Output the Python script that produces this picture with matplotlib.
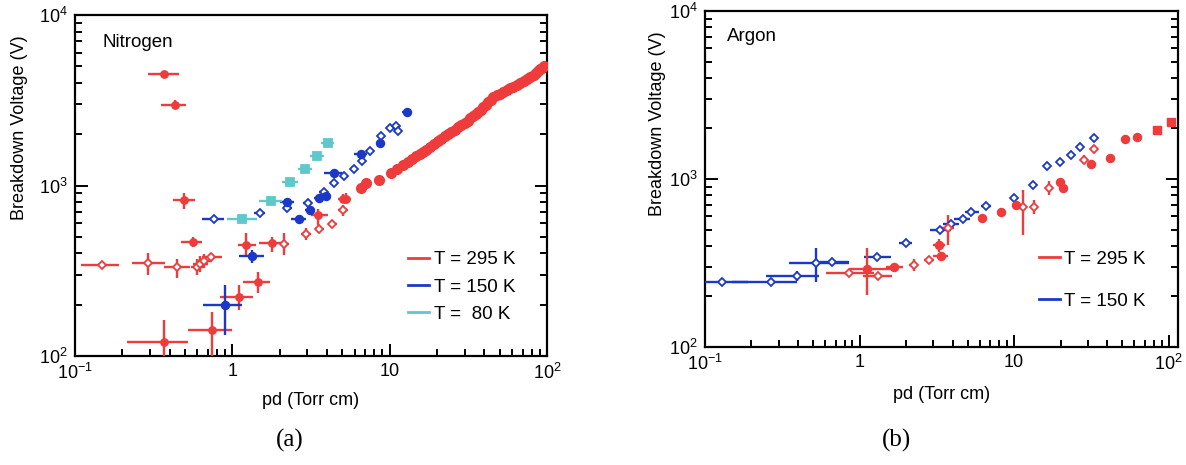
import numpy as np
import matplotlib
matplotlib.use("Agg")
import matplotlib.pyplot as plt
from matplotlib.lines import Line2D
from matplotlib.ticker import FixedLocator, FixedFormatter, LogLocator, NullFormatter

plt.rcParams['font.family'] = ['Liberation Sans', 'DejaVu Sans']
plt.rcParams['mathtext.fontset'] = 'custom'
plt.rcParams['mathtext.rm'] = 'Liberation Sans'

RED = '#EE3B3B'
BLUE = '#1B38C6'
CYAN = '#5EC8CA'

# rows: pd, V, pd_low, pd_high, V_low, V_high
n2_295_filled = [
    (0.37, 4520, 0.29, 0.46, 4460, 4580),
    (0.43, 2980, 0.35, 0.51, 2820, 3160),
    (0.49, 817, 0.42, 0.58, 730, 900),
    (0.56, 464, 0.47, 0.64, 437, 499),
    (0.37, 121, 0.215, 0.525, 95, 162),
    (0.74, 142, 0.525, 1.0, 95, 181),
    (1.10, 221, 0.84, 1.36, 186, 260),
    (1.45, 271, 1.17, 1.74, 233, 311),
    (1.22, 446, 1.08, 1.41, 390, 524),
    (1.80, 458, 1.48, 2.19, 407, 499),
    (3.52, 668, 3.16, 4.04, 583, 729),
    (5.06, 839, 4.70, 5.45, 790, 890),
    (5.28, 836, 4.95, 5.65, 780, 900),
]
n2_295_open = [
    (0.149, 340, 0.109, 0.191, 330, 350),
    (0.29, 350, 0.23, 0.376, 298, 400),
    (0.448, 331, 0.37, 0.54, 286, 369),
    (0.60, 331, 0.55, 0.66, 300, 370),
    (0.62, 345, 0.56, 0.70, 312, 385),
    (0.66, 360, 0.60, 0.74, 330, 395),
    (0.73, 381, 0.64, 0.86, 362, 402),
    (2.13, 456, 2.00, 2.30, 390, 524),
    (2.94, 521, 2.75, 3.15, 480, 565),
    (3.57, 558, 3.35, 3.80, 530, 590),
    (4.31, 591, 4.05, 4.60, 562, 620),
    (5.03, 714, 4.70, 5.40, 660, 770),
]
# long scan at room temperature
n2_295_scan_pd = [6.6, 7.1, 8.6, 10.2, 11.2, 12.2, 13.0, 13.9, 14.7, 15.5, 16.3,
                  17.1, 18.1, 19.2, 20.2, 21.3, 22.4, 23.5, 24.7, 25.9, 27.2,
                  28.6, 30.0, 31.3, 32.6, 34.0, 35.3, 36.6, 38.0, 39.4, 40.9,
                  42.4, 44.0, 45.6, 47.9, 50.2, 52.8, 55.4, 58.2, 61.2, 64.3,
                  67.5, 71.0, 74.5, 78.2, 82.1, 85.2, 88.3, 90.5, 92.7, 95.5]
n2_295_scan_v = [973, 1028, 1084, 1180, 1250, 1321, 1375, 1432, 1480, 1531, 1577,
                 1625, 1690, 1754, 1815, 1876, 1940, 2006, 2065, 2125, 2200,
                 2274, 2335, 2399, 2480, 2565, 2635, 2709, 2790, 2871, 2970,
                 3070, 3175, 3283, 3375, 3464, 3545, 3626, 3715, 3805, 3895,
                 3984, 4090, 4203, 4330, 4457, 4580, 4705, 4810, 4918, 5000]

n2_150_open = [
    (0.764, 638, 0.64, 0.89, 628, 648),
    (1.49, 689, 1.38, 1.62, 662, 718),
    (2.24, 741, 2.10, 2.40, 700, 785),
    (3.01, 788, 2.80, 3.22, 750, 828),
    (3.80, 914, 3.58, 4.03, 872, 958),
    (4.41, 1031, 4.18, 4.65, 990, 1075),
    (5.15, 1143, 4.90, 5.40, 1100, 1190),
    (5.91, 1254, 5.65, 6.20, 1210, 1300),
    (6.65, 1387, 6.35, 6.95, 1340, 1435),
    (7.45, 1585, 7.10, 7.80, 1530, 1640),
    (8.84, 1960, 8.50, 9.20, 1890, 2030),
    (9.98, 2173, 9.60, 10.4, 2100, 2250),
    (11.0, 2244, 10.6, 11.4, 2170, 2320),
    (11.3, 2099, 10.9, 11.7, 2030, 2170),
]
n2_150_filled = [
    (0.897, 199, 0.65, 1.16, 133, 260),
    (1.34, 384, 1.11, 1.59, 350, 420),
    (2.24, 798, 2.00, 2.48, 765, 835),
    (2.64, 638, 2.35, 2.95, 605, 672),
    (3.11, 714, 2.90, 3.35, 675, 755),
    (3.57, 847, 3.30, 3.85, 805, 890),
    (3.94, 872, 3.70, 4.20, 830, 915),
    (4.45, 1180, 3.85, 5.00, 1150, 1210),
    (6.59, 1531, 5.95, 7.20, 1500, 1565),
    (8.63, 1766, 8.20, 9.10, 1730, 1800),
    (12.8, 2710, 12.0, 13.6, 2650, 2770),
]
n2_80 = [
    (1.16, 638, 0.93, 1.44, 628, 648),
    (1.75, 809, 1.47, 2.08, 795, 823),
    (2.32, 1045, 2.07, 2.60, 1025, 1065),
    (2.90, 1245, 2.60, 3.20, 1220, 1270),
    (3.44, 1496, 3.10, 3.80, 1465, 1530),
    (4.04, 1766, 3.65, 4.45, 1725, 1810),
]

ar_150 = [
    (0.128, 245, 0.10, 0.19, 245, 245),
    (0.268, 245, 0.149, 0.394, 237, 253),
    (0.394, 265, 0.249, 0.545, 247, 285),
    (0.524, 315, 0.35, 0.86, 245, 388),
    (0.665, 322, 0.558, 0.849, 306, 340),
    (1.30, 345, 1.07, 1.59, 336, 355),
    (1.99, 414, 1.80, 2.20, 397, 432),
    (3.30, 497, 2.85, 3.90, 490, 505),
    (3.90, 540, 3.45, 4.40, 530, 550),
    (4.64, 575, 4.10, 5.20, 565, 585),
    (5.30, 636, 4.80, 5.90, 625, 648),
    (6.58, 688, 6.10, 7.10, 675, 700),
    (9.95, 767, 9.50, 10.4, 735, 800),
    (13.3, 921, 12.9, 13.7, 890, 955),
    (16.4, 1194, 16.0, 16.8, 1150, 1240),
    (19.7, 1267, 19.2, 20.2, 1225, 1310),
    (23.2, 1389, 22.7, 23.7, 1345, 1435),
    (26.6, 1545, 26.1, 27.1, 1490, 1600),
    (33.0, 1746, 32.4, 33.6, 1690, 1800),
]
ar_295_open = [
    (0.853, 275, 0.611, 1.24, 266, 284),
    (1.32, 265, 1.06, 1.62, 256, 274),
    (2.25, 308, 2.10, 2.40, 285, 335),
    (2.82, 330, 2.60, 3.05, 310, 350),
    (3.75, 510, 3.40, 4.10, 405, 611),
    (11.4, 684, 11.0, 11.8, 464, 861),
    (13.4, 684, 13.0, 13.8, 620, 750),
    (16.9, 881, 16.4, 17.4, 800, 970),
    (28.3, 1297, 27.6, 29.0, 1220, 1380),
    (33.0, 1503, 32.2, 33.8, 1420, 1590),
]
ar_295_filled = [
    (1.12, 290, 0.853, 1.59, 204, 387),
    (1.67, 298, 1.48, 1.90, 280, 318),
    (3.36, 348, 3.00, 3.75, 330, 370),
    (3.27, 405, 3.00, 3.55, 370, 440),
    (6.20, 583, 5.80, 6.60, 555, 612),
    (8.24, 638, 7.90, 8.60, 610, 668),
    (10.3, 700, 9.90, 10.7, 675, 725),
    (19.7, 964, 19.2, 20.2, 930, 1000),
    (20.7, 881, 20.2, 21.2, 840, 925),
    (31.3, 1228, 30.6, 32.0, 1180, 1280),
    (41.6, 1340, 40.6, 42.6, 1300, 1380),
    (52.0, 1722, 51.0, 53.0, 1640, 1810),
    (62.0, 1785, 61.0, 63.0, 1730, 1840),
]
ar_295_square_pd = [83.6, 103.5]
ar_295_square_v = [1959, 2193]


def draw(ax, rows, color, marker, filled=True, ms=5.0):
    d = np.array(rows, dtype=float)
    x, y = d[:, 0], d[:, 1]
    xerr = [x - d[:, 2], d[:, 3] - x]
    yerr = [y - d[:, 4], d[:, 5] - y]
    ax.errorbar(x, y, xerr=xerr, yerr=yerr, fmt=marker, color=color,
                mfc=color if filled else 'white', mec=color, ms=ms, mew=1.3,
                elinewidth=1.7, capsize=0, zorder=3)


def style(ax, xmax):
    ax.set_xscale('log')
    ax.set_yscale('log')
    ax.set_xlim(0.1, xmax)
    ax.set_ylim(100, 1e4)
    ax.xaxis.set_major_locator(FixedLocator([0.1, 1, 10, 100]))
    ax.xaxis.set_major_formatter(FixedFormatter(
        [r'$\mathregular{10^{-1}}$', '1', '10', r'$\mathregular{10^{2}}$']))
    ax.yaxis.set_major_locator(FixedLocator([100, 1000, 10000]))
    ax.yaxis.set_major_formatter(FixedFormatter(
        [r'$\mathregular{10^{2}}$', r'$\mathregular{10^{3}}$', r'$\mathregular{10^{4}}$']))
    for axis in (ax.xaxis, ax.yaxis):
        axis.set_minor_locator(LogLocator(base=10, subs=np.arange(2, 10)))
        axis.set_minor_formatter(NullFormatter())
    ax.tick_params(which='both', direction='in', right=True, top=False,
                   width=1.4, labelsize=13)
    ax.tick_params(which='major', length=9, pad=5)
    ax.tick_params(which='minor', length=5)
    for s in ax.spines.values():
        s.set_linewidth(1.6)
    ax.set_xlabel('pd (Torr cm)', fontsize=13)
    ax.set_ylabel('Breakdown Voltage (V)', fontsize=13, loc='top')


fig = plt.figure(figsize=(11.86, 4.65), dpi=100)
ax1 = fig.add_axes([0.0632, 0.2344, 0.3980, 0.7333])
ax2 = fig.add_axes([0.5944, 0.2538, 0.3989, 0.7226])

# (a) nitrogen
style(ax1, 100)
draw(ax1, n2_295_open, RED, 'D', filled=False, ms=4)
draw(ax1, n2_295_filled, RED, 'o', ms=5)
scan = np.array(n2_295_scan_pd)
ax1.errorbar(scan, n2_295_scan_v, xerr=[scan * 0.05, scan * 0.05],
             fmt='o', color=RED, ms=7, elinewidth=2, capsize=0, zorder=3)
draw(ax1, n2_150_open, BLUE, 'D', filled=False, ms=4)
draw(ax1, n2_150_filled, BLUE, 'o', ms=5.5)
draw(ax1, n2_80, CYAN, 's', ms=5.5)
ax1.text(0.059, 0.918, 'Nitrogen', transform=ax1.transAxes, fontsize=13.5, va='center')
ax1.yaxis.set_label_coords(-0.10, 0.94)
ax1.xaxis.set_label_coords(0.5, -0.105)
h1 = [Line2D([], [], color=c, lw=2) for c in (RED, BLUE, CYAN)]
ax1.legend(h1, ['T = 295 K', 'T = 150 K', 'T =  80 K'], loc='upper left',
           bbox_to_anchor=(0.706, 0.308), frameon=False, fontsize=13.5,
           handlelength=1.1, handletextpad=0.25, labelspacing=0.55,
           borderpad=0, borderaxespad=0)

# (b) argon
style(ax2, 115)
draw(ax2, ar_150, BLUE, 'D', filled=False, ms=4)
draw(ax2, ar_295_open, RED, 'D', filled=False, ms=4)
draw(ax2, ar_295_filled, RED, 'o', ms=5.5)
ax2.plot(ar_295_square_pd, ar_295_square_v, 's', color=RED, ms=5.5, zorder=3)
ax2.text(0.047, 0.923, 'Argon', transform=ax2.transAxes, fontsize=13.5, va='center')
ax2.yaxis.set_label_coords(-0.082, 0.94)
ax2.xaxis.set_label_coords(0.5, -0.115)
h2 = [Line2D([], [], color=c, lw=2) for c in (RED, BLUE)]
ax2.legend(h2, ['T = 295 K', 'T = 150 K'], loc='upper left',
           bbox_to_anchor=(0.706, 0.286), frameon=False, fontsize=13.5,
           handlelength=1.1, handletextpad=0.25, labelspacing=1.3,
           borderpad=0, borderaxespad=0)

fig.text(290 / 1186, 1 - 440 / 465, '(a)', family='Liberation Serif', fontsize=18,
         ha='center', va='center')
fig.text(897 / 1186, 1 - 440 / 465, '(b)', family='Liberation Serif', fontsize=18,
         ha='center', va='center')

fig.savefig('out.png', dpi=100)
